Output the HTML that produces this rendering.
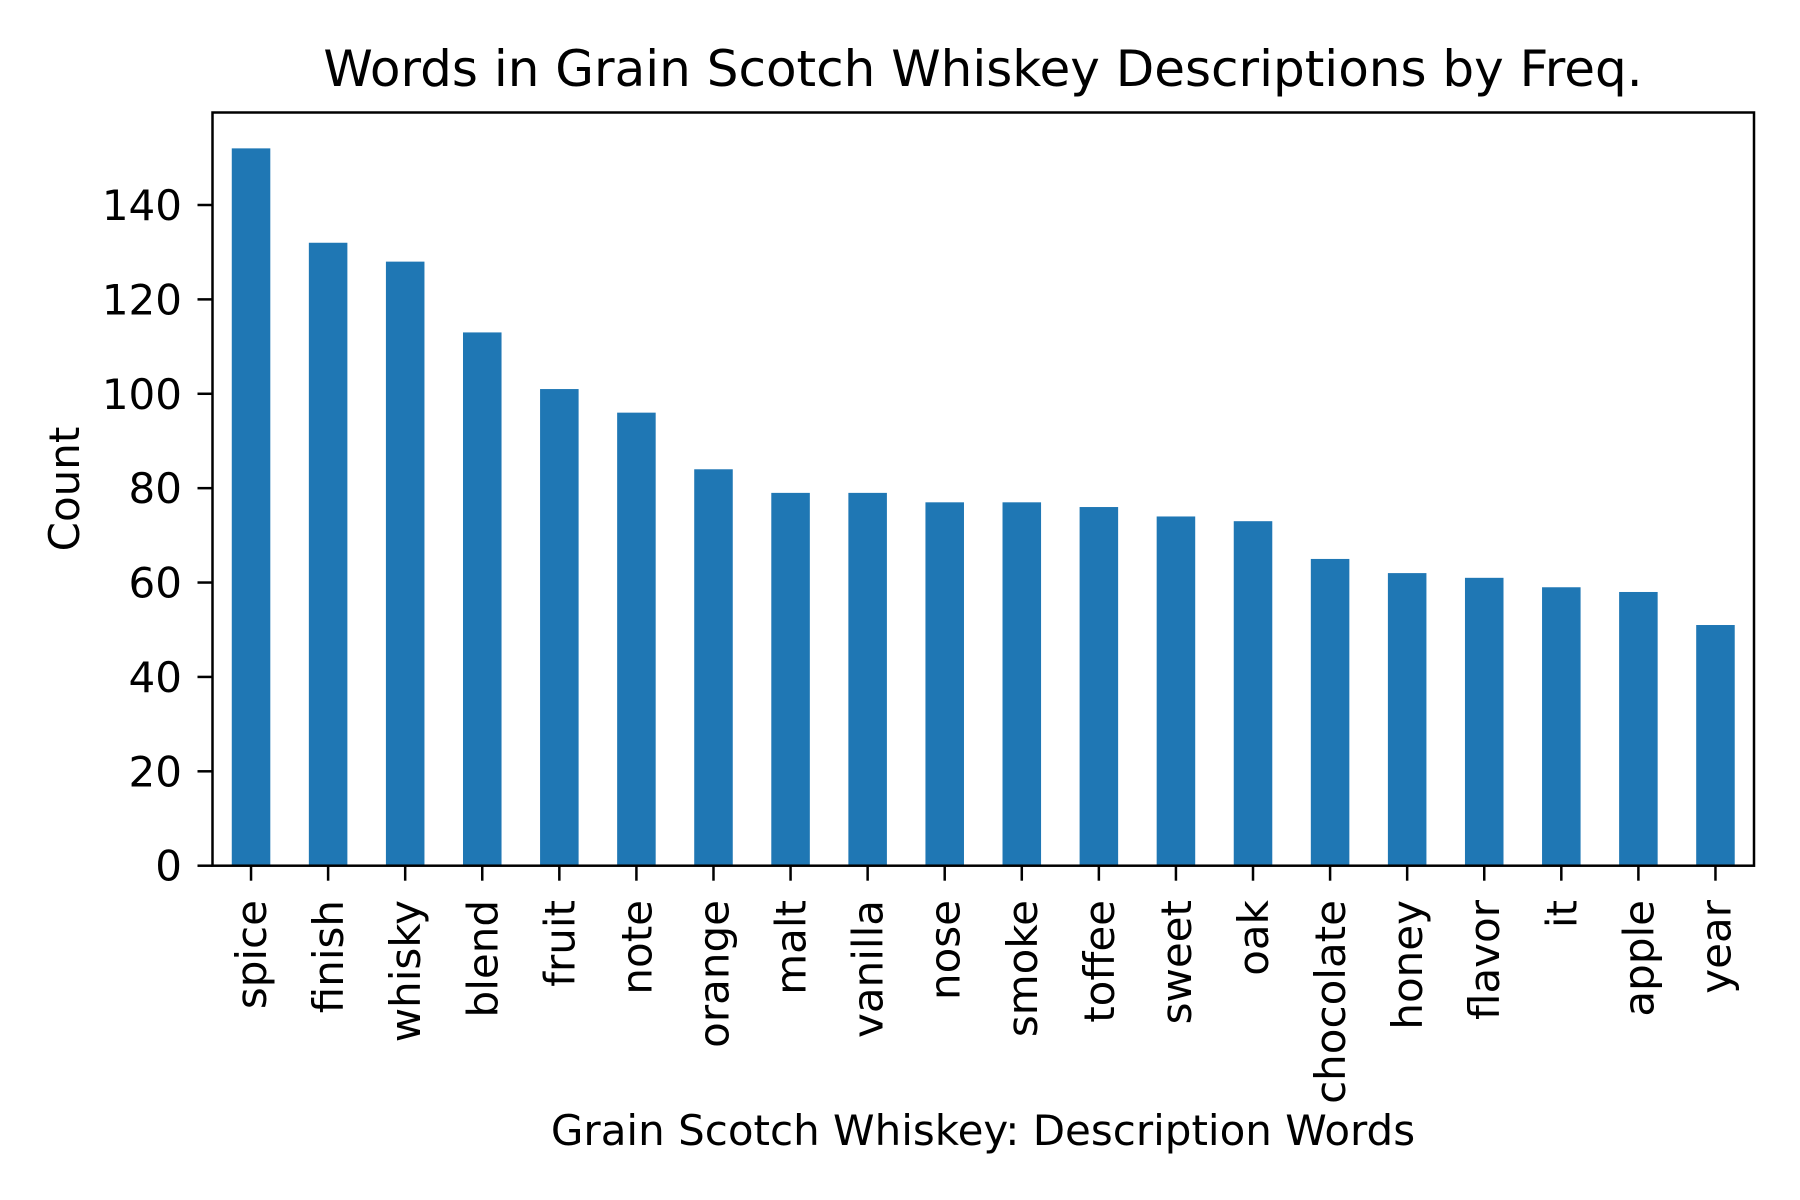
<!DOCTYPE html>
<html><head><meta charset="utf-8"><style>
html,body{margin:0;padding:0;background:#fff;}
svg{display:block;font-family:"DejaVu Sans","Liberation Sans",sans-serif;}
</style></head><body>
<svg id="chart" width="1800" height="1200" viewBox="0 0 1800 1200">
<rect x="0" y="0" width="1800" height="1200" fill="#fff"/>
<g id="bars"></g>
<g id="axes"></g>
<text x="983" y="86" text-anchor="middle" font-size="50" fill="#000">Words in Grain Scotch Whiskey Descriptions by Freq.</text>
<text x="983" y="1145" text-anchor="middle" font-size="42" fill="#000">Grain Scotch Whiskey: Description Words</text>
<text transform="translate(79,489) rotate(-90)" text-anchor="middle" font-size="42" fill="#000">Count</text>
</svg>
<script>
const categories = ["spice","finish","whisky","blend","fruit","note","orange","malt","vanilla","nose","smoke","toffee","sweet","oak","chocolate","honey","flavor","it","apple","year"];
const counts = [152,132,128,113,101,96,84,79,79,77,77,76,74,73,65,62,61,59,58,51];
const yTicks = [0,20,40,60,80,100,120,140];

const NS = "http://www.w3.org/2000/svg";
const L = 212.5, R = 1754, T = 112.5, B = 865.7;
const yMax = 159.6;
function yScale(v){ return B - v / yMax * (B - T); }
function xScale(i){ return L + (i + 0.5) * (R - L) / categories.length; }
const bw = (R - L) / categories.length * 0.5;

function mk(tag, attrs, parent){
  const e = document.createElementNS(NS, tag);
  for (const k in attrs) e.setAttribute(k, attrs[k]);
  parent.appendChild(e);
  return e;
}
const bars = document.getElementById('bars');
const axes = document.getElementById('axes');

categories.forEach((c, i) => {
  const cx = xScale(i);
  const r = mk('rect', {x: cx - bw/2, y: yScale(counts[i]), width: bw, height: B - yScale(counts[i]), fill: '#1f77b4'}, bars);
  
  
  mk('line', {x1: cx, x2: cx, y1: B, y2: B + 15, stroke: '#000', 'stroke-width': 2.5}, axes);
  const t = mk('text', {transform: `translate(${cx + 15},900) rotate(-90)`, 'text-anchor': 'end', 'font-size': 42, fill: '#000'}, axes);
  t.textContent = c;
  
  
});

yTicks.forEach(v => {
  const y = yScale(v);
  mk('line', {x1: L - 15, x2: L, y1: y, y2: y, stroke: '#000', 'stroke-width': 2.5}, axes);
  const t = mk('text', {x: 182, y: y + 15, 'text-anchor': 'end', 'font-size': 42, fill: '#000'}, axes);
  t.textContent = v;
  
  
});

const frame = mk('rect', {x: L, y: T, width: R - L, height: B - T, fill: 'none', stroke: '#000', 'stroke-width': 2.5}, axes);


</script>
</body></html>
